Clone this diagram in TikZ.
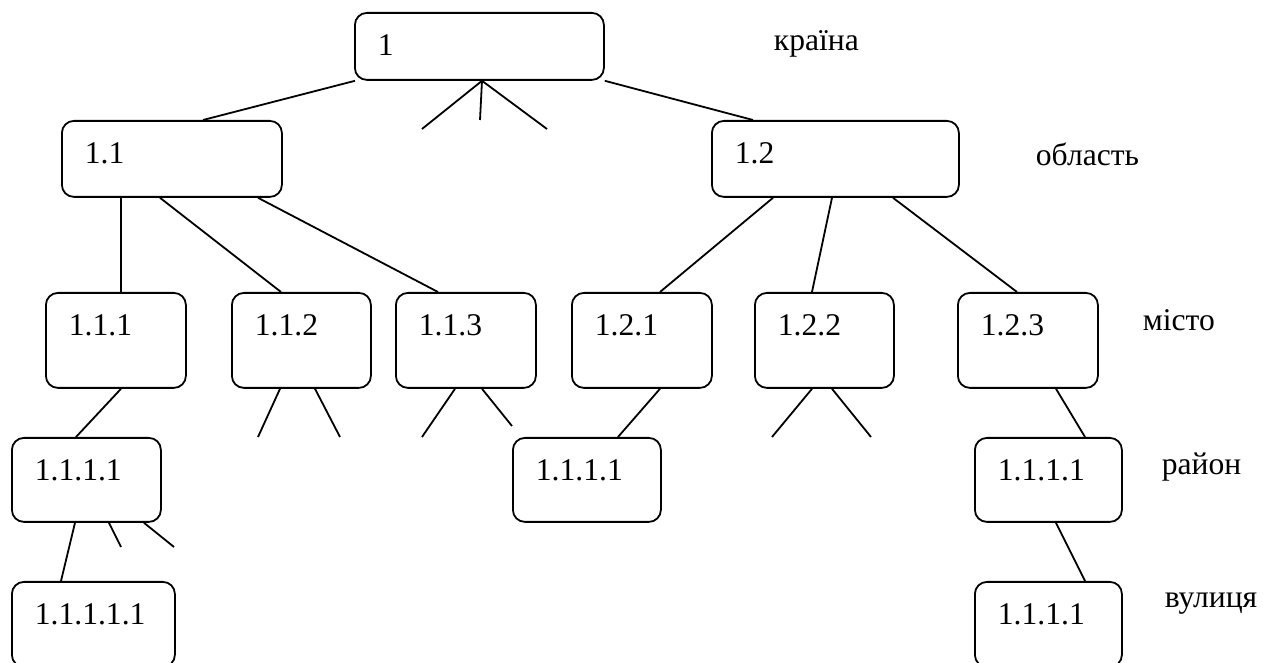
\documentclass[tikz,border=0pt]{standalone}
\usepackage{fontspec}
\setmainfont{Liberation Serif}
\begin{document}
\begin{tikzpicture}[x=0.5pt,y=-0.5pt,line width=0.9pt,
  font=\fontsize{15.8pt}{19pt}\selectfont,
  cell/.style 2 args={draw, rounded corners=6pt, anchor=north west,
    inner xsep=11.5pt, inner ysep=6.5pt, align=left,
    text width=#1, text height=15pt, text depth=#2},
  level/.style={anchor=base west, inner sep=0pt}]
  \useasboundingbox (0,0) rectangle (1271,663);
  % root and second level
  \node[cell={101.5pt}{5.5pt}] (n1) at (354,12) {1};
  \node[cell={87pt}{10pt}] (n11) at (61,120) {1.1};
  \node[cell={100.5pt}{10pt}] (n12) at (711,120) {1.2};
  % third level
  \node[cell={47pt}{19.5pt}] (n111) at (45,292) {1.1.1};
  \node[cell={46.5pt}{19.5pt}] (n112) at (231,292) {1.1.2};
  \node[cell={47pt}{19.5pt}] (n113) at (395,292) {1.1.3};
  \node[cell={47pt}{19.5pt}] (n121) at (571,292) {1.2.1};
  \node[cell={46.5pt}{19.5pt}] (n122) at (754,292) {1.2.2};
  \node[cell={47pt}{19.5pt}] (n123) at (957,292) {1.2.3};
  % fourth and fifth level
  \node[cell={51.5pt}{14pt}] (n1111) at (11,437) {1.1.1.1};
  \node[cell={51pt}{14pt}] (n1211) at (512,437) {1.1.1.1};
  \node[cell={50.5pt}{14pt}] (n1231) at (974,437) {1.1.1.1};
  \node[cell={58.5pt}{14.5pt}] (n11111) at (11,581) {1.1.1.1.1};
  \node[cell={50.5pt}{14.5pt}] (n12311) at (974,581) {1.1.1.1};
  % level names
  \node[level] (lcountry) at (773,51) {країна};
  \node[level] (lregion) at (1035,166) {область};
  \node[level] (lcity) at (1142,331) {місто};
  \node[level] (ldistrict) at (1161,475) {район};
  \node[level] (lstreet) at (1164,608) {вулиця};
  % loose ends of branches that are not drawn out
  \coordinate (s1a) at (422,129);
  \coordinate (s1b) at (480,120);
  \coordinate (s1c) at (547,129);
  \coordinate (s112a) at (258,437);
  \coordinate (s112b) at (340,437);
  \coordinate (s113a) at (422,437);
  \coordinate (s113b) at (512,426);
  \coordinate (s122a) at (772,437);
  \coordinate (s122b) at (871,437);
  \coordinate (s1111a) at (121,547);
  \coordinate (s1111b) at (174,547);
  % edges from the root
  \draw ([xshift=0.5pt]n1.south west) -- ([xshift=71pt]n11.north west);
  \draw (n1.south east) -- ([xshift=21pt]n12.north west);
  \foreach \e in {s1a,s1b,s1c}
    \draw ([xshift=64pt]n1.south west) -- (\e);
  % edges from 1.1 and 1.2
  \draw ([xshift=30pt]n11.south west) -- ([xshift=38pt]n111.north west);
  \draw ([xshift=49.5pt]n11.south west) -- ([xshift=25pt]n112.north west);
  \draw ([xshift=98.5pt]n11.south west) -- ([xshift=21.5pt]n113.north west);
  \draw ([xshift=31pt]n12.south west) -- ([xshift=44.5pt]n121.north west);
  \draw ([xshift=60.5pt]n12.south west) -- ([xshift=29pt]n122.north west);
  \draw ([xshift=91pt]n12.south west) -- ([xshift=30pt]n123.north west);
  % edges from the third level
  \draw ([xshift=38pt]n111.south west) -- ([xshift=32.5pt]n1111.north west);
  \draw ([xshift=24.5pt]n112.south west) -- (s112a);
  \draw ([xshift=42pt]n112.south west) -- (s112b);
  \draw ([xshift=30pt]n113.south west) -- (s113a);
  \draw ([xshift=43.5pt]n113.south west) -- (s113b);
  \draw ([xshift=44.5pt]n121.south west) -- ([xshift=53pt]n1211.north west);
  \draw ([xshift=29pt]n122.south west) -- (s122a);
  \draw ([xshift=39pt]n122.south west) -- (s122b);
  \draw ([xshift=49.5pt]n123.south west) -- ([xshift=55.5pt]n1231.north west);
  % edges from the fourth level
  \draw ([xshift=32pt]n1111.south west) -- ([xshift=25pt]n11111.north west);
  \draw ([xshift=49pt]n1111.south west) -- (s1111a);
  \draw ([xshift=66.5pt]n1111.south west) -- (s1111b);
  \draw ([xshift=41pt]n1231.south west) -- ([xshift=55.5pt]n12311.north west);
\end{tikzpicture}
\end{document}
